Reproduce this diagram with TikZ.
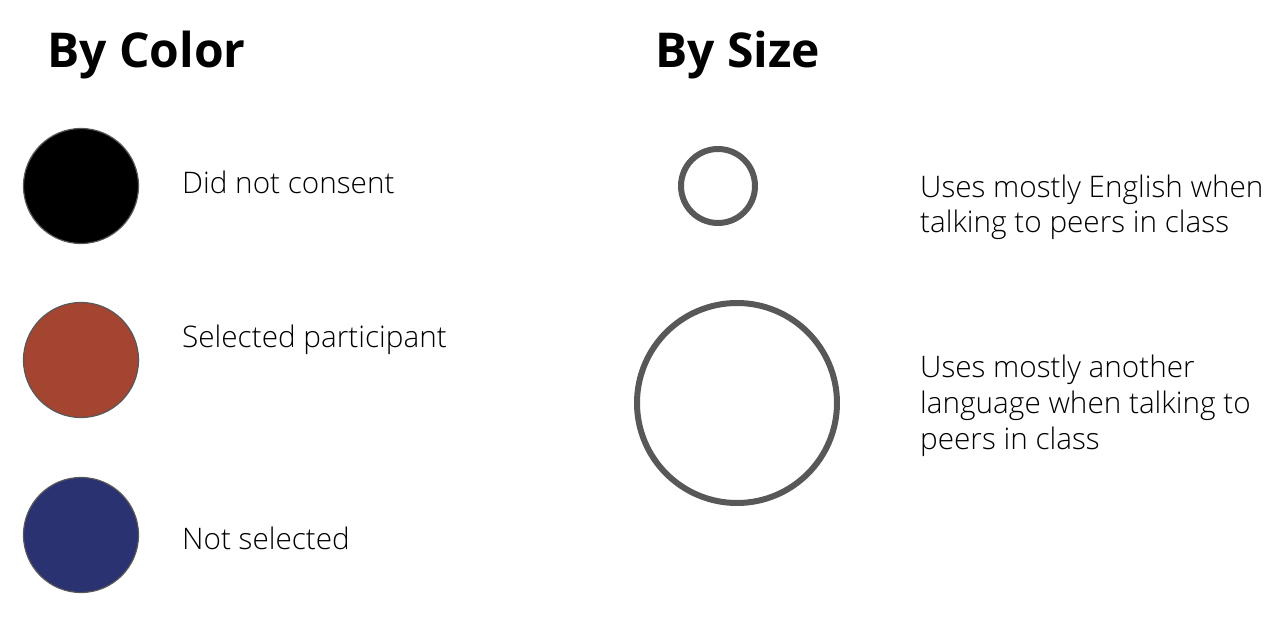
\documentclass[tikz,border=0pt]{standalone}
\usepackage{fontspec}
\setmainfont{Open Sans}[UprightFont=* Light, BoldFont=* Bold]
\usepackage{tikz}
\usetikzlibrary{positioning}
\definecolor{lgblack}{RGB}{0,0,0}
\definecolor{lgred}{RGB}{164,69,50}
\definecolor{lgblue}{RGB}{42,50,114}
\definecolor{lgrim}{RGB}{88,88,88}

\begin{document}
\begin{tikzpicture}[
			x=1bp, y=-1bp,
			title/.style={anchor=base west, inner sep=0pt, font=\fontsize{48bp}{54bp}\selectfont\bfseries},
			label/.style={anchor=base west, inner sep=0pt, align=left, font=\fontsize{29.7bp}{35.7bp}\selectfont},
			dot/.style={circle, draw=lgrim, line width=1.2bp, minimum size=115bp, inner sep=0pt},
			ring/.style={circle, draw=lgrim, line width=6bp, inner sep=0pt}
		]
			\useasboundingbox (0,0) rectangle (1284,620);

			\node[title] (bycolor) at (47,68) {By Color};
			\node[title] (bysize) at (655,68) {By Size};

			\node[dot, fill=lgblack] (nocon) at (81,186) {};
			\node[dot, fill=lgred] (sel) at (81,360) {};
			\node[dot, fill=lgblue] (notsel) at (81,535) {};
			\node[label] (noconlbl) at (182,194) {Did not consent};
			\node[label] (sellbl) at (182,348) {Selected participant};
			\node[label] (notsellbl) at (182,549) {Not selected};

			% multi-line labels sit on the baseline of their last line
			\node[ring, minimum size=74bp] (small) at (718,186) {};
			\node[ring, minimum size=200bp] (big) at (737,403) {};
			\node[label] (smalllbl) at (920,233) {Uses mostly English when\\talking to peers in class};
			\node[label] (biglbl) at (920,449) {Uses mostly another\\language when talking to\\peers in class};
		\end{tikzpicture}
\end{document}
